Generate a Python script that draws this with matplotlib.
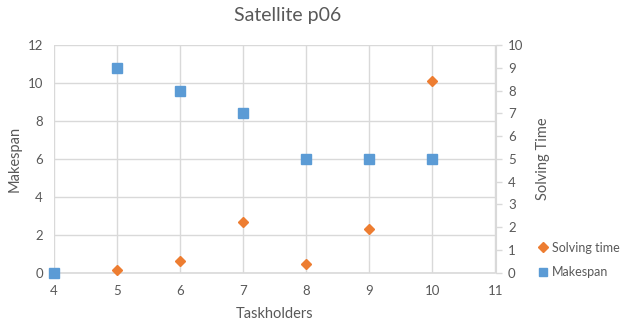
import matplotlib.pyplot as plt
from matplotlib.lines import Line2D

taskholders = [4, 5, 6, 7, 8, 9, 10]
solving_time = [0.0, 0.14, 0.64, 2.68, 0.48, 2.29, 10.1]
makespan = [0, 9, 8, 7, 5, 5, 5]

grey = "#595959"
grid = "#d9d9d9"
orange = "#ED7D31"
blue = "#5B9BD5"

plt.rcParams['font.family'] = ['Lato', 'DejaVu Sans']

fig = plt.figure(figsize=(6.26, 3.27), dpi=100)
ax = fig.add_axes((54 / 626, 1 - 272.7 / 327, (495.5 - 54) / 626, (272.7 - 45) / 327))
ax2 = ax.twinx()

ax.set_xlim(4, 11)
ax.set_ylim(0, 12)
ax2.set_ylim(0, 10)
ax.set_xticks(range(4, 12))
ax.set_yticks(range(0, 13, 2))
ax2.set_yticks(range(0, 11))

ax.grid(True, color=grid, linewidth=1)
ax.set_axisbelow(True)
for a in (ax, ax2):
    for s in a.spines.values():
        s.set_visible(False)
ax.spines['bottom'].set_visible(True)
ax.spines['bottom'].set_color(grid)
ax.spines['bottom'].set_linewidth(1.2)
ax2.spines['right'].set_visible(True)
ax2.spines['right'].set_color(grid)

ax.tick_params(axis='y', length=0, labelsize=9.5, colors=grey, pad=8)
ax.tick_params(axis='x', length=0, labelsize=9.5, colors=grey, pad=9)
ax2.tick_params(axis='y', length=4, width=1, color=grid, labelsize=9.5, labelcolor=grey, pad=5)

ax.plot(taskholders, solving_time, linestyle='none', marker='D', markersize=5.5,
        color=orange, zorder=3, clip_on=False)
ax2.plot(taskholders, makespan, linestyle='none', marker='s', markersize=7,
         color=blue, zorder=3, clip_on=False)

ax.set_xlabel('Taskholders', fontsize=10.5, color=grey, labelpad=7)
ax.set_ylabel('Makespan', fontsize=10.5, color=grey, labelpad=4)
ax2.set_ylabel('Solving Time', fontsize=10.5, color=grey, labelpad=9)

fig.text(288 / 626, 1 - 15 / 327, 'Satellite p06', ha='center', va='center',
         fontsize=14, color=grey)

handles = [Line2D([], [], linestyle='none', marker='D', markersize=5, color=orange),
           Line2D([], [], linestyle='none', marker='s', markersize=6, color=blue)]
fig.legend(handles, ['Solving time', 'Makespan'], loc='center left',
           bbox_to_anchor=(538 / 626, 1 - 260 / 327), frameon=False, fontsize=9,
           labelcolor=grey, handlelength=0.8, handletextpad=0.3, labelspacing=1.0,
           borderpad=0, borderaxespad=0)

fig.savefig('out.png', dpi=100)
